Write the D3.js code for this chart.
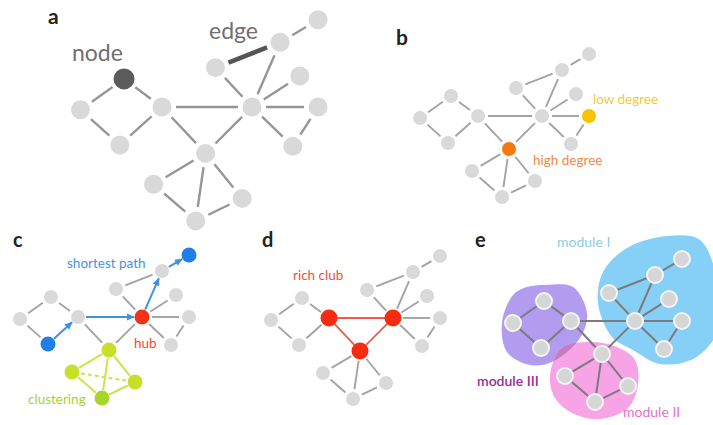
<!DOCTYPE html>
<html>
<head>
<meta charset="utf-8">
<script src="https://cdn.jsdelivr.net/npm/d3@7"></script>
<style>
  html, body { margin: 0; padding: 0; background: #fff; }
  svg { display: block; }
  text { font-family: Lato, "Open Sans", sans-serif; }
</style>
</head>
<body>
<svg id="fig" width="713" height="425"></svg>
<script>
// Shared network layout (units relative to node N1)
const nodeNames = ["L", "T", "B", "N1", "H", "BH", "BHL", "BHR", "BHB", "HT", "HU", "HUU", "HR1", "HR", "HRB"];
const nodeU     = [-58, -27, -30, 0, 64, 31, -6, 57, 24, 38, 84, 111, 98, 111, 93];
const nodeV     = [2, -20, 27, 0, 0, 33, 55, 65, 81, -28, -46, -62, -22, 0, 28];

const edgePairs = [
  ["L", "T"], ["L", "B"], ["T", "N1"], ["B", "N1"], ["N1", "H"], ["N1", "BH"], ["H", "BH"],
  ["BH", "BHL"], ["BH", "BHB"], ["BH", "BHR"], ["BHL", "BHB"], ["BHB", "BHR"],
  ["H", "HT"], ["HT", "HU"], ["HU", "HUU"], ["H", "HU"], ["H", "HR1"], ["H", "HR"], ["H", "HRB"], ["HR", "HRB"]
];

// Panel c: shortest path and clustering triangle
const shortestPath = ["B", "N1", "H", "HU", "HUU"];
const clusterEdges = [["BH", "BHL"], ["BH", "BHB"], ["BH", "BHR"], ["BHL", "BHB"], ["BHB", "BHR"]];
const clusterDashed = [["BHL", "BHR"]];
// Panel d: rich club
const richClub = ["N1", "H", "BH"];
// Panel e: module outlines (same units as the layout)
const moduleI   = [[96,-85],[129,-81],[146,-41],[147,9],[124,37],[89,43],[62,29],[41,16],[27,-18],[32,-49],[56,-73]];
const moduleII  = [[-9,27],[19,21],[46,26],[64,39],[67,64],[57,87],[29,98],[3,93],[-16,77],[-21,54]];
const moduleIII = [[-26,-36],[2,-34],[16,-8],[9,17],[-19,41],[-41,44],[-64,31],[-69,2],[-58,-26],[-44,-34]];

const nodes = nodeNames.map((n, i) => ({ id: n, u: nodeU[i], v: nodeV[i] }));
const byId = Object.fromEntries(nodes.map(d => [d.id, d]));

const svg = d3.select("#fig");
const defs = svg.append("defs");
defs.append("marker")
  .attr("id", "arrowBlue")
  .attr("viewBox", "0 -5 10 10")
  .attr("refX", 9).attr("refY", 0)
  .attr("markerUnits", "userSpaceOnUse")
  .attr("markerWidth", 8).attr("markerHeight", 8)
  .attr("orient", "auto")
  .append("path").attr("d", "M0,-4.5L10,0L0,4.5Z").attr("fill", "#3f8fe4");

const GRAY_NODE = "#d9d9d9";
const GRAY_EDGE = "#a3a3a3";

// Build a panel: scales from layout units to pixels
function makePanel(ox, oy, k) {
  const x = d3.scaleLinear().domain([0, 1]).range([ox, ox + k]);
  const y = d3.scaleLinear().domain([0, 1]).range([oy, oy + k]);
  const g = svg.append("g");
  return { x, y, g, k };
}

function trimmed(p, a, b, ra, rb) {
  const x1 = p.x(a.u), y1 = p.y(a.v), x2 = p.x(b.u), y2 = p.y(b.v);
  const dx = x2 - x1, dy = y2 - y1, L = Math.hypot(dx, dy);
  return {
    x1: x1 + dx * ra / L, y1: y1 + dy * ra / L,
    x2: x2 - dx * rb / L, y2: y2 - dy * rb / L
  };
}

function key(a, b) { return [a, b].sort().join("-"); }

function drawEdges(p, pairs, opts) {
  const gap = opts.gap;
  p.g.append("g").selectAll("line")
    .data(pairs)
    .join("line")
    .each(function (e) {
      const t = trimmed(p, byId[e[0]], byId[e[1]], gap, gap);
      d3.select(this).attr("x1", t.x1).attr("y1", t.y1).attr("x2", t.x2).attr("y2", t.y2);
    })
    .attr("stroke", opts.color)
    .attr("stroke-width", opts.width)
    .attr("stroke-dasharray", opts.dash || null)
    .attr("stroke-linecap", "butt");
}

function drawNodes(p, r, fillFn, opts = {}) {
  p.g.append("g").selectAll("circle")
    .data(nodes)
    .join("circle")
    .attr("cx", d => p.x(d.u))
    .attr("cy", d => p.y(d.v))
    .attr("r", d => (opts.rFn ? opts.rFn(d) : r))
    .attr("fill", fillFn)
    .attr("stroke", opts.stroke || "none")
    .attr("stroke-width", opts.strokeWidth || 0);
}

function label(txt, x, y, size, color, weight) {
  svg.append("text")
    .attr("x", x).attr("y", y)
    .attr("font-size", size)
    .attr("font-weight", weight || 400)
    .attr("fill", color)
    .text(txt);
}

// ---------- a: node and edge ----------
{
  const p = makePanel(162, 107, 1.406);
  const special = key("HT", "HU");
  drawEdges(p, edgePairs.filter(e => key(e[0], e[1]) !== special), { color: "#969696", width: 2.4, gap: 14 });
  drawEdges(p, [["HT", "HU"]], { color: "#555", width: 4.5, gap: 14 });
  drawNodes(p, 9.5, d => d.id === "T" ? "#5c5c5c" : GRAY_NODE, { rFn: d => d.id === "T" ? 10.5 : 9.5 });
  label("a", 48, 24, 21, "#222", 700);
  label("node", 72, 61, 23, "#707070");
  label("edge", 209, 39, 23, "#707070");
}

// ---------- b: degree ----------
{
  const p = makePanel(478, 116, 1);
  drawEdges(p, edgePairs, { color: GRAY_EDGE, width: 1.9, gap: 10 });
  drawNodes(p, 7, d => d.id === "BH" ? "#f5780f" : d.id === "HR" ? "#f7c300" : GRAY_NODE);
  label("b", 396, 45, 21, "#222", 700);
  label("low degree", 593, 104, 13.5, "#f2c84a");
  label("high degree", 533, 165, 13.5, "#f08a3e");
}

// ---------- c: shortest path, hub, clustering ----------
{
  const p = makePanel(78, 317, 1);
  const pathKeys = new Set();
  for (let i = 0; i < shortestPath.length - 1; i++) pathKeys.add(key(shortestPath[i], shortestPath[i + 1]));
  const clusterKeys = new Set(clusterEdges.map(e => key(e[0], e[1])));
  drawEdges(p, edgePairs.filter(e => !pathKeys.has(key(e[0], e[1])) && !clusterKeys.has(key(e[0], e[1]))),
    { color: GRAY_EDGE, width: 1.9, gap: 10 });
  drawEdges(p, clusterEdges, { color: "#cde24e", width: 2, gap: 8 });
  drawEdges(p, clusterDashed, { color: "#cde24e", width: 2, gap: 9, dash: "4,3" });
  // shortest path arrows
  const steps = d3.pairs(shortestPath);
  p.g.append("g").selectAll("line")
    .data(steps)
    .join("line")
    .each(function (e) {
      const t = trimmed(p, byId[e[0]], byId[e[1]], 8, 8);
      d3.select(this).attr("x1", t.x1).attr("y1", t.y1).attr("x2", t.x2).attr("y2", t.y2);
    })
    .attr("stroke", "#3f8fe4")
    .attr("stroke-width", 2)
    .attr("marker-end", "url(#arrowBlue)");
  const colorC = {
    B: "#1f7fe8", HUU: "#1f7fe8", H: "#f3321c",
    BH: "#c8df2a", BHL: "#c8df2a", BHR: "#c8df2a", BHB: "#a9d52a"
  };
  drawNodes(p, 7, d => colorC[d.id] || GRAY_NODE, { rFn: d => colorC[d.id] ? 7.5 : 7 });
  label("c", 13, 247, 20, "#222", 700);
  label("shortest path", 67, 268, 13.5, "#4791e3");
  label("hub", 134, 348, 13.5, "#f04a30");
  label("clustering", 28, 404, 13.5, "#a3d43a");
}

// ---------- d: rich club ----------
{
  const p = makePanel(329, 318, 1);
  const rcKeys = new Set(d3.pairs(richClub.concat(richClub[0])).map(e => key(e[0], e[1])));
  drawEdges(p, edgePairs.filter(e => !rcKeys.has(key(e[0], e[1]))), { color: GRAY_EDGE, width: 1.9, gap: 10 });
  drawEdges(p, d3.pairs(richClub.concat(richClub[0])), { color: "#f05a46", width: 1.8, gap: 8 });
  drawNodes(p, 7, d => richClub.includes(d.id) ? "#f52c10" : GRAY_NODE,
    { rFn: d => richClub.includes(d.id) ? 8.5 : 7 });
  label("d", 262, 247, 20, "#222", 700);
  label("rich club", 293, 280, 13.5, "#f0503c");
}

// ---------- e: modules ----------
{
  const p = makePanel(571, 321, 1);
  const blob = d3.line().x(d => p.x(d[0])).y(d => p.y(d[1])).curve(d3.curveCatmullRomClosed.alpha(0.5));
  defs.append("clipPath").attr("id", "clipIII").append("path").attr("d", blob(moduleIII));
  defs.append("clipPath").attr("id", "clipI").append("path").attr("d", blob(moduleI));
  const blobs = p.g.append("g");
  blobs.append("path").attr("d", blob(moduleI)).attr("fill", "#86cff6");
  blobs.append("path").attr("d", blob(moduleIII)).attr("fill", "#b29cf0");
  blobs.append("path").attr("d", blob(moduleII)).attr("fill", "#f6a4e6");
  // darker tint where module II overlaps the others
  blobs.append("path").attr("d", blob(moduleII)).attr("fill", "#c77cc0").attr("clip-path", "url(#clipIII)");
  blobs.append("path").attr("d", blob(moduleII)).attr("fill", "#c686cf").attr("clip-path", "url(#clipI)");
  drawEdges(p, edgePairs, { color: "#7b7b7b", width: 2, gap: 9 });
  drawNodes(p, 8, () => "#d6d6d6", { stroke: "#f4f4f4", strokeWidth: 2 });
  label("e", 475, 247, 20, "#222", 700);
  label("module I", 557, 247, 14, "#8bcde6");
  label("module III", 477, 386, 14, "#9a2d94", 600);
  label("module II", 623, 417, 14, "#e271c6");
}
</script>
</body>
</html>
